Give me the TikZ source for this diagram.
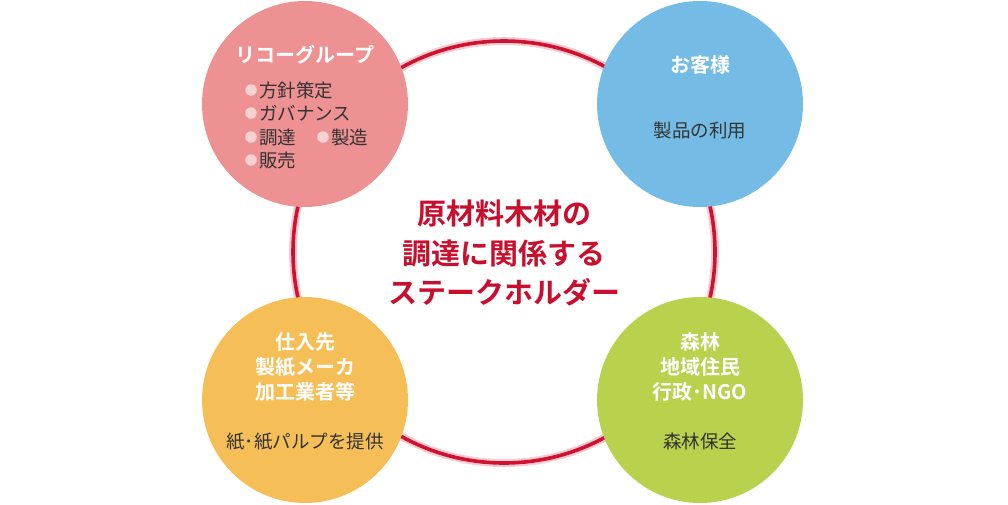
\documentclass[tikz,border=0pt]{standalone}
\usepackage{fontspec}
\setmainfont{Noto Sans CJK JP}[BoldFont={* Bold}]
\definecolor{ringred}{HTML}{D0112F}
\definecolor{ringpink}{HTML}{F6CCD2}
\definecolor{titlered}{HTML}{C8102E}
\definecolor{cpink}{HTML}{EE9193}
\definecolor{cblue}{HTML}{74BCE5}
\definecolor{cyellow}{HTML}{F6BE56}
\definecolor{cgreen}{HTML}{B9D24E}
\definecolor{bulletpink}{HTML}{F8D2D2}
\definecolor{dark}{HTML}{333333}
\tikzset{
  title/.style={inner sep=0pt, text height=25.5pt, text depth=3.5pt, font=\fontsize{29}{31}\selectfont\bfseries, text=titlered},
  head/.style={inner sep=0pt, text height=17.6pt, text depth=2.4pt, font=\fontsize{20}{22}\selectfont\bfseries, text=white},
  item/.style={inner sep=0pt, text height=16.3pt, text depth=2.2pt, font=\fontsize{18.5}{20}\selectfont, text=dark},
  litem/.style={item, anchor=west},
  bul/.style={circle, fill=bulletpink, minimum size=11.5pt, inner sep=0pt},
  bigc/.style={circle, minimum size=206pt, inner sep=0pt},
}
\begin{document}
\begin{tikzpicture}[x=1pt,y=-1pt]
\useasboundingbox (0,0) rectangle (1008,504);
\coordinate (ctr) at (504,252);
% ring
\draw[ringpink, line width=8pt] (ctr) circle[radius=211];
\draw[ringred, line width=3.6pt] (ctr) circle[radius=211];
% circles
\node[bigc, fill=cpink] (pink) at (305,104) {};
\node[bigc, fill=cblue] (blue) at (700,104) {};
\node[bigc, fill=cyellow] (yellow) at (305,400) {};
\node[bigc, fill=cgreen] (green) at (700,400) {};
% title
\node[title] (t1) at (504,213) {原材料木材の};
\node[title] (t2) at (504,253) {調達に関係する};
\node[title] (t3) at (504,292) {ステークホルダー};
% pink
\node[head] (ph) at (305,55) {リコーグループ};
\node[bul] (pb1) at (251,90) {};
\node[litem] (pi1) at (259,90) {方針策定};
\node[bul] (pb2) at (251,113) {};
\node[litem] (pi2) at (259,113) {ガバナンス};
\node[bul] (pb3) at (251,137) {};
\node[litem] (pi3) at (259,137) {調達};
\node[bul] (pb4) at (323,137) {};
\node[litem] (pi4) at (331,137) {製造};
\node[bul] (pb5) at (251,160) {};
\node[litem] (pi5) at (259,160) {販売};
% blue
\node[head] (bh) at (700,65) {お客様};
\node[item] (bi) at (700,130) {製品の利用};
% yellow
\node[head] (yh1) at (305,342) {仕入先};
\node[head] (yh2) at (305,367) {製紙メーカ};
\node[head] (yh3) at (305,392) {加工業者等};
\node[item] (yi) at (305,441) {紙･紙パルプを提供};
% green
\node[head] (gh1) at (700,342) {森林};
\node[head] (gh2) at (700,367) {地域住民};
\node[head] (gh3) at (700,392) {行政･NGO};
\node[item] (gi) at (700,441) {森林保全};
\end{tikzpicture}
\end{document}
